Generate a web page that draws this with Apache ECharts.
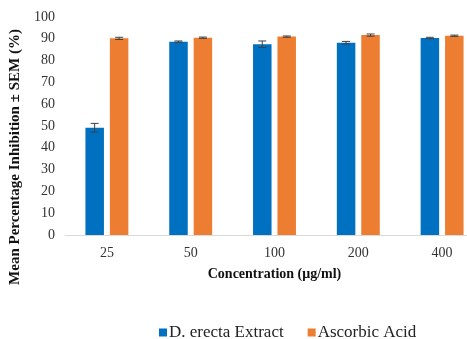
<!DOCTYPE html>
<html>
<head>
<meta charset="utf-8">
<style>html,body{margin:0;padding:0;background:#fff;overflow:hidden;}#c{width:467px;height:339px;}</style>
<script src="https://cdn.jsdelivr.net/npm/echarts@6/dist/echarts.min.js"></script>
</head>
<body>
<div id="c"></div>
<script>
const categories = ['25', '50', '100', '200', '400'];
const extractMean = [49.2, 88.7, 87.5, 88.2, 90.4];
const extractSem = [2.0, 0.3, 1.5, 0.6, 0.3];
const ascorbicMean = [90.2, 90.5, 91.0, 91.7, 91.4];
const ascorbicSem = [0.5, 0.3, 0.3, 0.5, 0.3];
const yTicks = [0, 10, 20, 30, 40, 50, 60, 70, 80, 90, 100];

const serif = '"Liberation Serif", "Times New Roman", serif';
const BAR_W = 18.5, OFFSET = 12.25;

function errData(means, sems) {
  return means.map((m, i) => [i, m, sems[i]]);
}
function errRender(dx) {
  return function (params, api) {
    const i = api.value(0), m = api.value(1), s = api.value(2);
    const top = api.coord([i, m + s]);
    const bot = api.coord([i, m - s]);
    const x = top[0] + dx;
    const st = { stroke: '#404040', lineWidth: 1 };
    return {
      type: 'group',
      children: [
        { type: 'line', shape: { x1: x, y1: top[1], x2: x, y2: bot[1] }, style: st },
        { type: 'line', shape: { x1: x - 4, y1: top[1], x2: x + 4, y2: top[1] }, style: st },
        { type: 'line', shape: { x1: x - 4, y1: bot[1], x2: x + 4, y2: bot[1] }, style: st }
      ]
    };
  };
}

const chart = echarts.init(document.getElementById('c'));
chart.setOption({
  animation: false,
  grid: { left: 65, top: 17, width: 419, bottom: 104, containLabel: false, outerBoundsMode: 'none' },
  legend: {
    data: ['D. erecta Extract', 'Ascorbic Acid'],
    left: 154, top: 319,
    icon: 'rect', itemWidth: 8, itemHeight: 8, itemGap: 24,
    textStyle: { fontFamily: serif, fontSize: 17, color: '#222', padding: [0, 0, 0, -3] }
  },
  xAxis: {
    type: 'category',
    data: categories,
    name: 'Concentration (μg/ml)',
    nameLocation: 'middle',
    nameGap: 32,
    nameTextStyle: { fontFamily: serif, fontSize: 14, fontWeight: 'bold', color: '#111' },
    axisLine: { lineStyle: { color: '#d9d9d9', width: 1 } },
    axisTick: { show: false },
    axisLabel: { fontFamily: serif, fontSize: 14, color: '#333', margin: 11 }
  },
  yAxis: {
    type: 'value',
    min: 0, max: 100, interval: 10,
    name: 'Mean Percentage Inhibition ± SEM (%)',
    nameLocation: 'middle',
    nameGap: 42,
    nameTextStyle: { fontFamily: serif, fontSize: 15, fontWeight: 'bold', color: '#111', padding: [0, 0, 0, -62] },
    axisLine: { show: false },
    axisTick: { show: false },
    splitLine: { show: false },
    axisLabel: { fontFamily: serif, fontSize: 14, color: '#333', margin: 10,
      formatter: v => yTicks.includes(v) ? String(v) : '' }
  },
  series: [
    { name: 'D. erecta Extract', type: 'bar', data: extractMean, barWidth: BAR_W, barGap: '32%',
      itemStyle: { color: '#0070C0' } },
    { name: 'Ascorbic Acid', type: 'bar', data: ascorbicMean, barWidth: BAR_W,
      itemStyle: { color: '#ED7D31' } },
    { type: 'custom', data: errData(extractMean, extractSem), renderItem: errRender(-OFFSET), z: 5, silent: true },
    { type: 'custom', data: errData(ascorbicMean, ascorbicSem), renderItem: errRender(OFFSET), z: 5, silent: true }
  ]
});
</script>
</body>
</html>
